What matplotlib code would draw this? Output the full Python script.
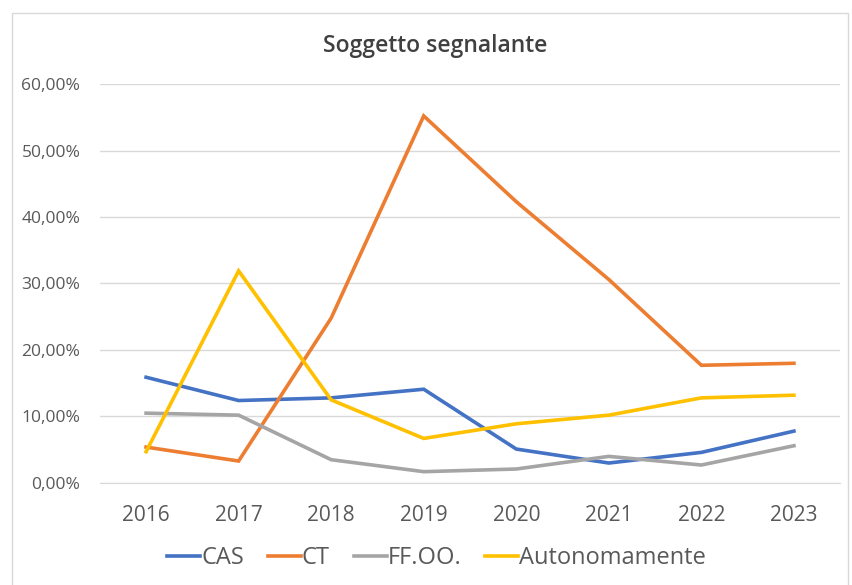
import matplotlib
matplotlib.use("Agg")
import matplotlib.pyplot as plt
from matplotlib.patches import Rectangle
from matplotlib.ticker import FuncFormatter

plt.rcParams['font.family'] = ['Open Sans', 'DejaVu Sans']

years = ["2016", "2017", "2018", "2019", "2020", "2021", "2022", "2023"]
cas = [15.9, 12.4, 12.8, 14.1, 5.1, 3.0, 4.6, 7.8]
ct = [5.4, 3.3, 24.8, 55.2, 42.3, 30.6, 17.7, 18.0]
ffoo = [10.5, 10.2, 3.5, 1.7, 2.1, 4.0, 2.7, 5.6]
autonomamente = [4.7, 31.9, 12.5, 6.7, 8.9, 10.2, 12.8, 13.2]

series = [("CAS", cas, "#4472C4"),
          ("CT", ct, "#ED7D31"),
          ("FF.OO.", ffoo, "#A5A5A5"),
          ("Autonomamente", autonomamente, "#FFC000")]

text_col = "#595959"

fig = plt.figure(figsize=(8.53, 5.85), dpi=100)
# chart area border
fig.patches.append(Rectangle((0.014, -0.01), 0.98, 0.988, transform=fig.transFigure,
                             fill=False, edgecolor="#D9D9D9", linewidth=1))

ax = fig.add_axes([0.117, 0.1744, 0.868, 0.682])
x = range(len(years))
for name, vals, col in series:
    ax.plot(x, [v / 100 for v in vals], color=col, linewidth=2.6, label=name,
            solid_joinstyle="miter")

ax.set_xlim(-0.5, len(years) - 0.5)
ax.set_ylim(0, 0.6)
ax.set_yticks([0, 0.1, 0.2, 0.3, 0.4, 0.5, 0.6])
ax.yaxis.set_major_formatter(FuncFormatter(lambda v, p: f"{v*100:.2f}%".replace(".", ",")))
ax.set_xticks(list(x))
ax.set_xticklabels(years)
ax.grid(axis="y", color="#D9D9D9", linewidth=1)
ax.set_axisbelow(True)
for s in ["top", "right", "left"]:
    ax.spines[s].set_visible(False)
ax.spines["bottom"].set_color("#D9D9D9")
ax.tick_params(axis="y", length=0, labelsize=12.5, labelcolor=text_col, pad=14)
ax.tick_params(axis="x", length=0, labelsize=15, labelcolor=text_col, pad=16)

fig.text(0.51, 0.922, "Soggetto segnalante", ha="center", va="center",
         fontsize=16.5, color="#404040", fontweight="semibold")

fig.legend(loc="center", bbox_to_anchor=(0.512, 0.046), ncol=4, frameon=False,
           fontsize=17, labelcolor=text_col, handlelength=1.4, handletextpad=0.05,
           columnspacing=1.0)

fig.savefig("out.png", dpi=100)
